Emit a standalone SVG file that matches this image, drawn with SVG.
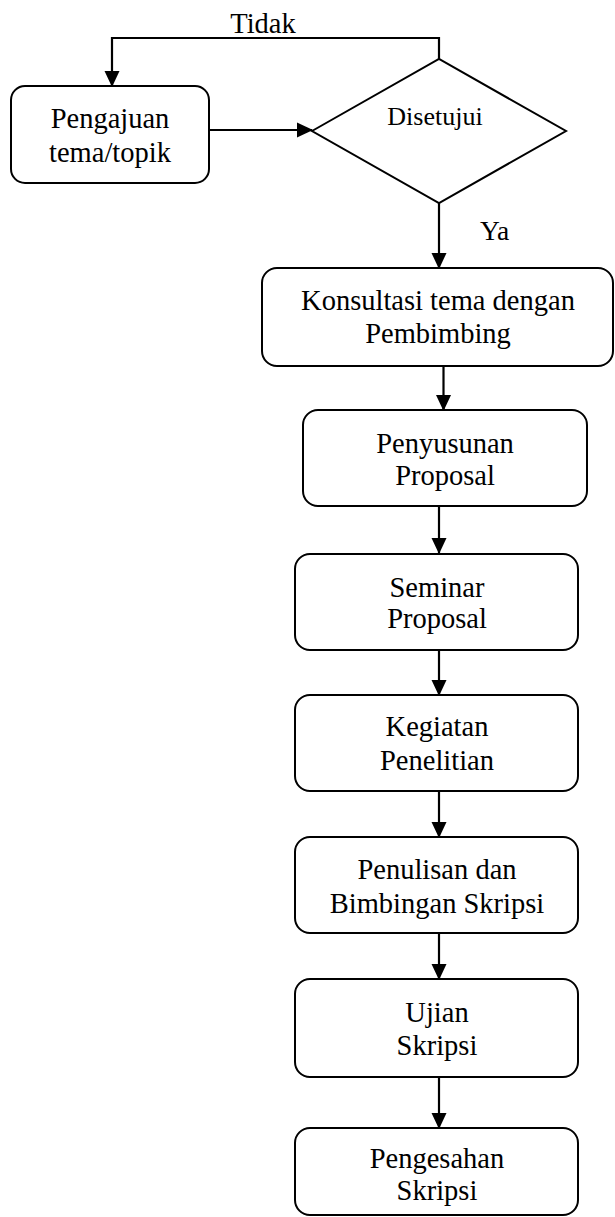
<svg xmlns="http://www.w3.org/2000/svg" width="615" height="1217" viewBox="0 0 615 1217">
<style>
.box{fill:#fff;stroke:#000;stroke-width:2}
.t{font-family:"Liberation Serif","Times New Roman",serif;font-size:28.5px;fill:#000;text-anchor:middle}
.c{fill:none;stroke:#000;stroke-width:2.2}
</style>
<defs>
<marker id="ah" viewBox="0 0 16 16" markerWidth="16" markerHeight="16" refX="15" refY="8" orient="auto" markerUnits="userSpaceOnUse">
<path d="M0,0.5 L16,8 L0,15.5 z" fill="#000"/>
</marker>
</defs>
<rect width="615" height="1217" fill="#fff"/>
<g id="connectors">
<path class="c" d="M439,59 V38 H112 V86" marker-end="url(#ah)"/>
<path class="c" d="M209,130 H312" marker-end="url(#ah)"/>
<path class="c" d="M439,203 V268" marker-end="url(#ah)"/>
<path class="c" d="M443.5,366 V410" marker-end="url(#ah)"/>
<path class="c" d="M439,506 V553" marker-end="url(#ah)"/>
<path class="c" d="M439,650 V695" marker-end="url(#ah)"/>
<path class="c" d="M439,791 V837" marker-end="url(#ah)"/>
<path class="c" d="M439,933 V979" marker-end="url(#ah)"/>
<path class="c" d="M439,1077 V1128" marker-end="url(#ah)"/>
</g>
<text class="t" x="263" y="33">Tidak</text>
<text class="t" x="480" y="240" style="text-anchor:start;font-size:27.5px">Ya</text>
<g id="pengajuan">
<rect class="box" x="11" y="86" width="198" height="97" rx="14"/>
<text class="t" x="110" y="128">Pengajuan</text>
<text class="t" x="110" y="162">tema/topik</text>
</g>
<g id="disetujui">
<polygon class="box" points="312,131 439,59 566,131 439,203"/>
<text class="t" x="435" y="125" style="font-size:26px">Disetujui</text>
</g>
<g id="konsultasi">
<rect class="box" x="262" y="268" width="351" height="98" rx="15"/>
<text class="t" x="438" y="310">Konsultasi tema dengan</text>
<text class="t" x="438" y="343">Pembimbing</text>
</g>
<g id="penyusunan">
<rect class="box" x="303" y="410" width="284" height="96" rx="15"/>
<text class="t" x="445" y="453">Penyusunan</text>
<text class="t" x="445" y="485">Proposal</text>
</g>
<g id="seminar">
<rect class="box" x="295" y="554" width="283" height="96" rx="15"/>
<text class="t" x="437" y="597">Seminar</text>
<text class="t" x="437" y="628">Proposal</text>
</g>
<g id="kegiatan">
<rect class="box" x="295" y="695" width="283" height="96" rx="15"/>
<text class="t" x="437" y="736">Kegiatan</text>
<text class="t" x="437" y="770">Penelitian</text>
</g>
<g id="penulisan">
<rect class="box" x="295" y="837" width="283" height="96" rx="15"/>
<text class="t" x="437" y="879">Penulisan dan</text>
<text class="t" x="437" y="913">Bimbingan Skripsi</text>
</g>
<g id="ujian">
<rect class="box" x="295" y="979" width="283" height="98" rx="15"/>
<text class="t" x="437" y="1022">Ujian</text>
<text class="t" x="437" y="1055">Skripsi</text>
</g>
<g id="pengesahan">
<rect class="box" x="295" y="1128" width="283" height="87" rx="15"/>
<text class="t" x="437" y="1168">Pengesahan</text>
<text class="t" x="437" y="1200">Skripsi</text>
</g>
</svg>
